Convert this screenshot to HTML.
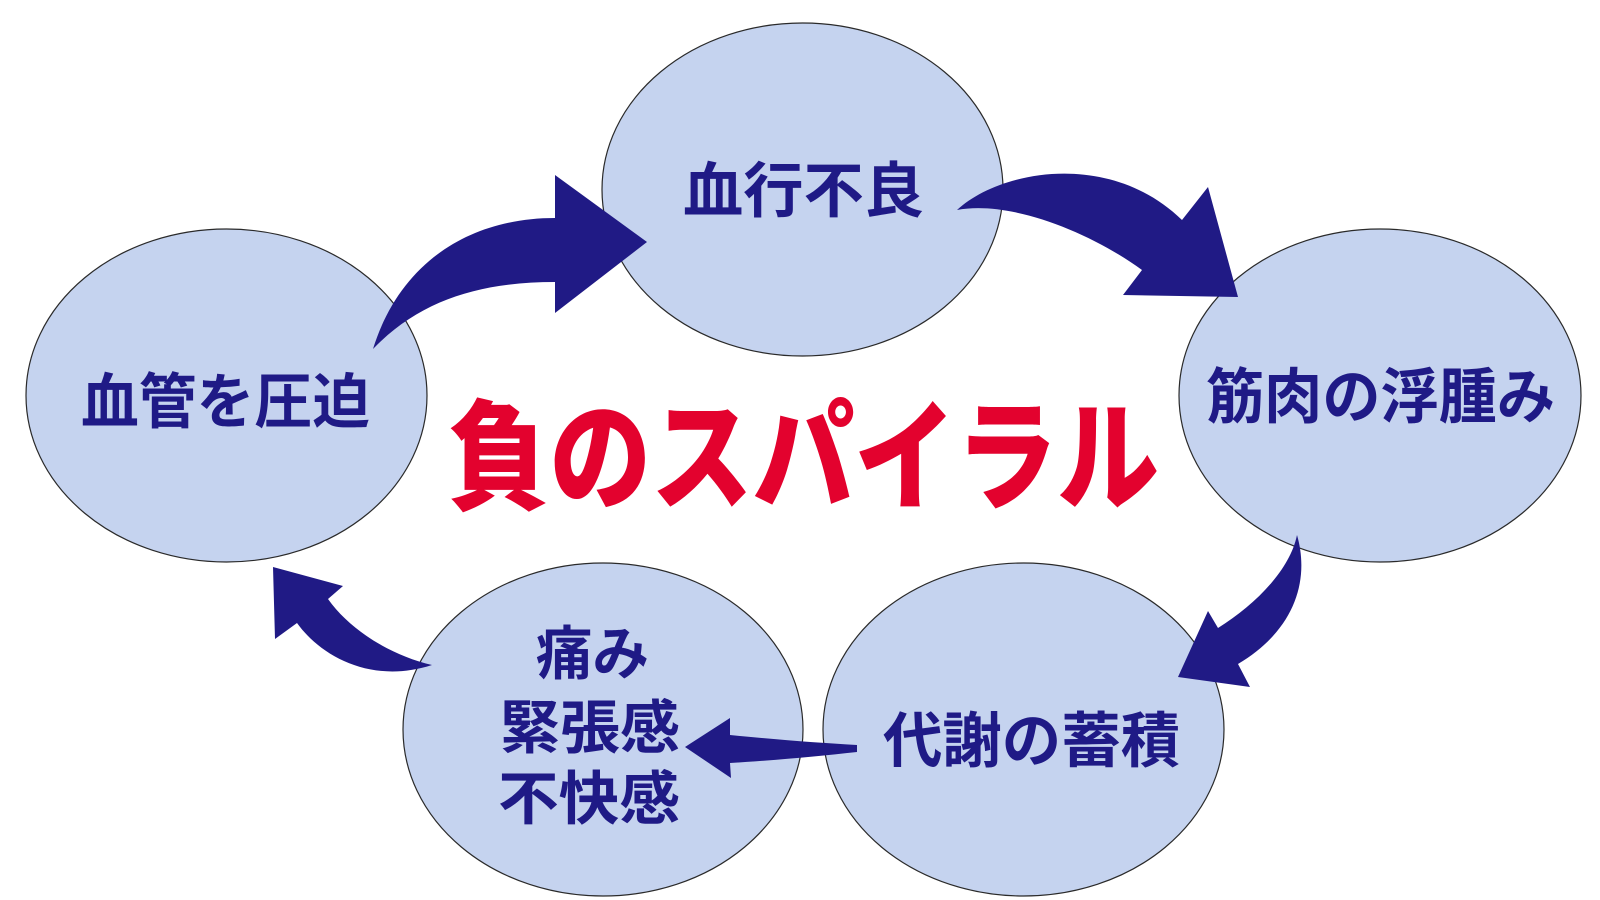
<!DOCTYPE html>
<html>
<head>
<meta charset="utf-8">
<style>
  html, body { margin: 0; padding: 0; background: #ffffff; }
  svg { display: block; }
  .n { font-family: "Liberation Sans", "Noto Sans CJK JP", sans-serif; font-weight: 700; fill: #1f1a86; }
  .t { font-family: "Liberation Sans", "Noto Sans CJK JP", sans-serif; font-weight: 900; fill: #e3022e; }
</style>
</head>
<body>
<svg width="1600" height="900" viewBox="0 0 1600 900" xmlns="http://www.w3.org/2000/svg">
  <rect x="0" y="0" width="1600" height="900" fill="#ffffff"/>
  <!-- ellipses -->
  <g fill="#c5d3ef" stroke="#2a2a2a" stroke-width="1.2">
    <ellipse cx="226.5" cy="395.5" rx="200.5" ry="166.5"/>
    <ellipse cx="802.5" cy="189.5" rx="200.5" ry="166.5"/>
    <ellipse cx="1380" cy="395.5" rx="201" ry="166.5"/>
    <ellipse cx="603" cy="729.5" rx="200" ry="166.5"/>
    <ellipse cx="1023.5" cy="729.5" rx="200.5" ry="166.5"/>
  </g>

  <!-- node labels -->
  <text class="n" x="81" y="423" font-size="60" textLength="289" lengthAdjust="spacingAndGlyphs">血管を圧迫</text>
  <text class="n" x="683" y="212" font-size="60" textLength="241" lengthAdjust="spacingAndGlyphs">血行不良</text>
  <text class="n" x="1206" y="418" font-size="60" textLength="349" lengthAdjust="spacingAndGlyphs">筋肉の浮腫み</text>
  <text class="n" x="536" y="674" font-size="58" textLength="113" lengthAdjust="spacingAndGlyphs">痛み</text>
  <text class="n" x="500" y="748" font-size="58" textLength="180" lengthAdjust="spacingAndGlyphs">緊張感</text>
  <text class="n" x="498" y="819" font-size="58" textLength="182" lengthAdjust="spacingAndGlyphs">不快感</text>
  <text class="n" x="883" y="762" font-size="60" textLength="297" lengthAdjust="spacingAndGlyphs">代謝の蓄積</text>

  <!-- title -->
  <text class="t" x="448" y="500" font-size="120" textLength="711" lengthAdjust="spacingAndGlyphs">負のスパイラル</text>

  <!-- arrows -->
  <g fill="#201a85">
    <!-- left -> top -->
    <path d="M373,349 C400,262 470,218 555,218 L555,175 L647,242 L555,313 L555,282 C480,282 420,300 373,349 Z"/>
    <!-- top -> right -->
    <path d="M957,210 C1000,170 1110,150 1182,220 L1208,187 L1238,297 L1123,295 L1142,270 C1090,232 1010,200 957,210 Z"/>
    <!-- right -> bottom-right -->
    <path d="M1297,535 C1310,580 1295,630 1238,664 L1250,687 L1178,677 L1208,611 L1218,628 C1255,605 1290,570 1297,535 Z"/>
    <!-- bottom-right -> bottom-left -->
    <path d="M685,747 L730,718 L730,735 C780,740 820,743 857,745 L857,752 C820,756 780,760 730,763 L731,778 Z"/>
    <!-- bottom-left -> left -->
    <path d="M432,665 C390,655 350,630 328,599 L343,586 L273,567 L275,639 L297,623 C320,655 370,685 432,665 Z"/>
  </g>
</svg>
</body>
</html>
